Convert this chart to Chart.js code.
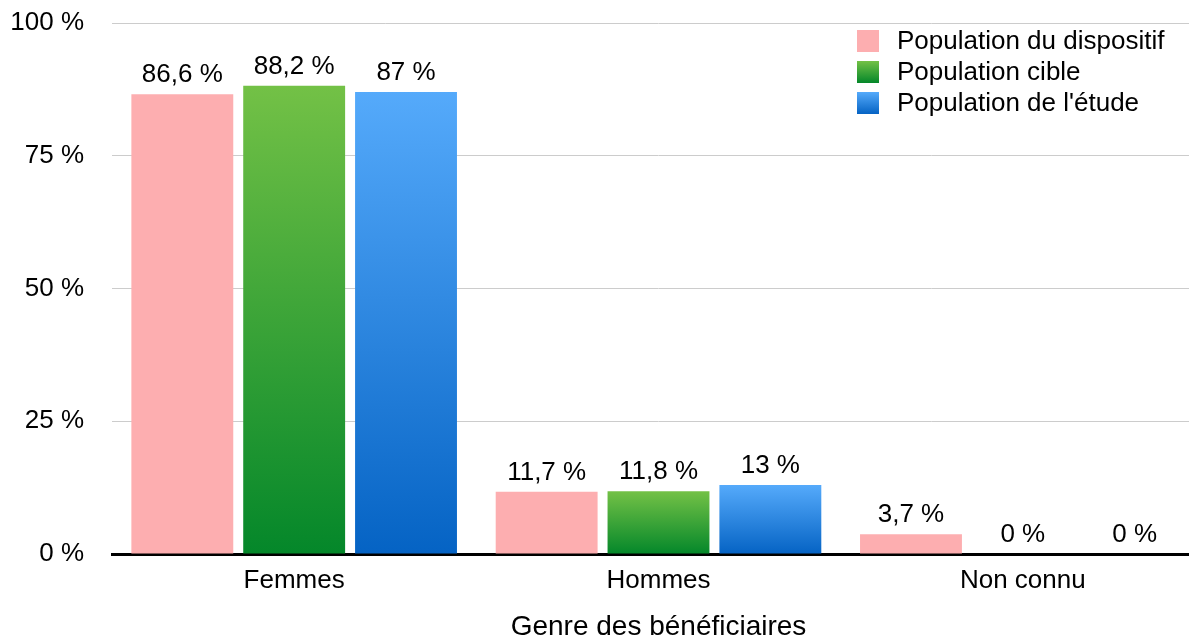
<!DOCTYPE html>
<html lang="fr">
<head>
    <meta charset="UTF-8">
    <title>Genre des bénéficiaires</title>
    <script src="https://cdn.jsdelivr.net/npm/chart.js"></script>
    <style>
        html, body { margin: 0; padding: 0; background: #fff; overflow: hidden; }
        #wrap { width: 1189px; height: 640px; overflow: hidden; }
    </style>
</head>
<body>
    <div id="wrap"><canvas id="genreChart" width="1205" height="640"></canvas></div>
    <script>
        // données
        const categories = ['Femmes', 'Hommes', 'Non connu'];
        const seriesNames = ['Population du dispositif', 'Population cible', "Population de l'étude"];
        const dispositif = [86.6, 11.7, 3.7];
        const cible = [88.2, 11.8, 0];
        const etude = [87, 13, 0];
        const yTicks = [0, 25, 50, 75, 100];
        const xTitle = 'Genre des bénéficiaires';

        const FONT = '"Liberation Sans", Arial, Helvetica, sans-serif';
        const FS = 26;
        const palettes = [
            ['#fdaeb0', '#fdaeb0'],
            ['#73c146', '#04872a'],
            ['#55aafb', '#0563c4']
        ];

        const fmt = v => String(v).replace('.', ',') + ' %';

        function barFill(idx) {
            return function (ctx) {
                const chart = ctx.chart;
                const [top, bot] = palettes[idx];
                if (top === bot || !chart.chartArea || ctx.type !== 'data') return top;
                const y = chart.scales.y;
                const v = ctx.raw || 0;
                const y0 = y.getPixelForValue(v), y1 = y.getPixelForValue(0);
                if (y1 - y0 < 1) return top;
                const g = chart.ctx.createLinearGradient(0, y0, 0, y1);
                g.addColorStop(0, top);
                g.addColorStop(1, bot);
                return g;
            };
        }

        const valueLabels = {
            id: 'valueLabels',
            afterDatasetsDraw(chart) {
                const c = chart.ctx;
                c.save();
                c.font = FS + 'px ' + FONT;
                c.fillStyle = '#000';
                c.textAlign = 'center';
                c.textBaseline = 'alphabetic';
                chart.data.datasets.forEach((ds, i) => {
                    chart.getDatasetMeta(i).data.forEach((bar, j) => {
                        c.fillText(fmt(ds.data[j]), bar.x, bar.y - 12);
                    });
                });
                c.restore();
            }
        };

        const boxLegend = {
            id: 'boxLegend',
            afterDraw(chart) {
                const c = chart.ctx;
                const x = 857, y0 = 41, step = 31, box = 22;
                c.save();
                c.font = FS + 'px ' + FONT;
                c.textBaseline = 'middle';
                c.textAlign = 'left';
                chart.data.datasets.forEach((ds, i) => {
                    const cy = y0 + i * step;
                    const g = c.createLinearGradient(0, cy - box / 2, 0, cy + box / 2);
                    g.addColorStop(0, palettes[i][0]);
                    g.addColorStop(1, palettes[i][1]);
                    c.fillStyle = g;
                    c.fillRect(x, cy - box / 2, box, box);
                    c.fillStyle = '#000';
                    c.fillText(ds.label, x + 40, cy + 1);
                });
                c.restore();
            }
        };

        const seriesData = [dispositif, cible, etude];

        new Chart(document.getElementById('genreChart'), {
            type: 'bar',
            data: {
                labels: categories,
                datasets: seriesNames.map((name, i) => ({
                    label: name,
                    data: seriesData[i],
                    backgroundColor: barFill(i),
                    borderWidth: 0,
                    categoryPercentage: 0.921,
                    barPercentage: 0.911
                }))
            },
            options: {
                responsive: false,
                animation: false,
                layout: { padding: { top: 23, right: 0, left: 0, bottom: 0 } },
                plugins: {
                    legend: { display: false },
                    tooltip: { enabled: false }
                },
                scales: {
                    x: {
                        grid: { display: false, drawTicks: false },
                        border: { display: true, color: '#000', width: 3 },
                        ticks: { color: '#000', font: { family: FONT, size: FS }, padding: 11 },
                        title: {
                            display: true,
                            text: xTitle,
                            color: '#000',
                            font: { family: FONT, size: 28, lineHeight: 1 },
                            padding: { top: 4, bottom: -1 }
                        },
                        afterFit(scale) { scale.height = 86; }
                    },
                    y: {
                        min: 0,
                        max: 100,
                        afterBuildTicks(scale) { scale.ticks = yTicks.map(v => ({ value: v })); },
                        grid: { color: '#cccccc', lineWidth: 1, drawTicks: true, tickLength: 28, tickColor: 'rgba(0,0,0,0)' },
                        border: { display: false },
                        ticks: {
                            color: '#000',
                            font: { family: FONT, size: FS },
                            padding: 0,
                            callback: v => v + ' %'
                        },
                        afterFit(scale) { scale.width = 112; }
                    }
                }
            },
            plugins: [valueLabels, boxLegend]
        });
    </script>
</body>
</html>
